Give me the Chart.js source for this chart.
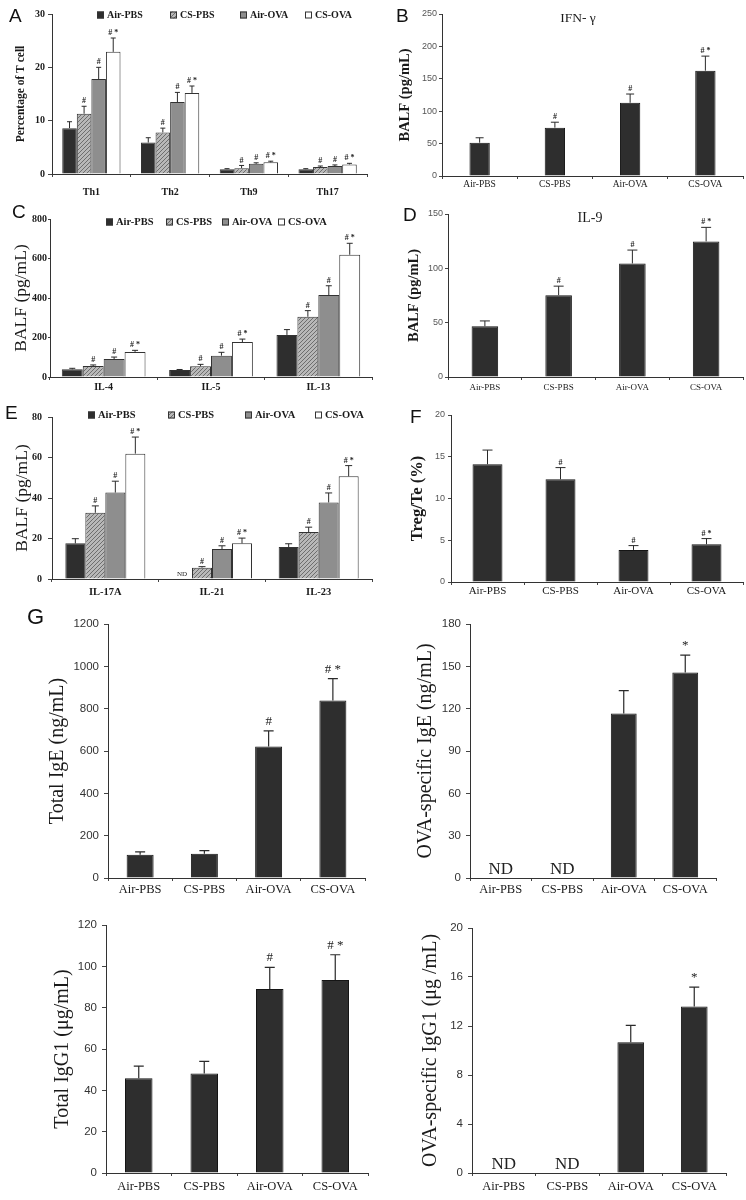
<!DOCTYPE html>
<html>
<head>
<meta charset="utf-8">
<script src="https://cdn.jsdelivr.net/npm/chart.js@4.4.1/dist/chart.umd.min.js"></script>
<style>
  body { margin: 0; background: #fff; }
  #page { position: relative; width: 746px; height: 1200px; }
  canvas { position: absolute; }
  .tag { position: absolute; font-family: 'Liberation Sans', Arial, sans-serif; font-size: 19px; line-height: 19px; color: #111; }
</style>
</head>
<body>
<div id="page">
  <canvas id="pA" width="373" height="200" style="left:0;top:0"></canvas>
  <canvas id="pB" width="373" height="200" style="left:373px;top:0"></canvas>
  <canvas id="pC" width="373" height="205" style="left:0;top:195px"></canvas>
  <canvas id="pD" width="373" height="205" style="left:373px;top:195px"></canvas>
  <canvas id="pE" width="373" height="200" style="left:0;top:400px"></canvas>
  <canvas id="pF" width="373" height="200" style="left:373px;top:400px"></canvas>
  <canvas id="pG1" width="373" height="300" style="left:0;top:600px"></canvas>
  <canvas id="pG2" width="373" height="300" style="left:373px;top:600px"></canvas>
  <canvas id="pG3" width="373" height="300" style="left:0;top:900px"></canvas>
  <canvas id="pG4" width="373" height="300" style="left:373px;top:900px"></canvas>
  <div class="tag" style="left:9px;top:6px">A</div>
  <div class="tag" style="left:396px;top:6px">B</div>
  <div class="tag" style="left:12px;top:202px">C</div>
  <div class="tag" style="left:403px;top:205px">D</div>
  <div class="tag" style="left:5px;top:403px">E</div>
  <div class="tag" style="left:410px;top:407px">F</div>
  <div class="tag" style="left:27px;top:606px;font-size:22px;line-height:22px">G</div>
</div>
<script>
const groups = ["Air-PBS", "CS-PBS", "Air-OVA", "CS-OVA"];

// A: T cell subsets (% of T cells)
const tSubsets = ["Th1", "Th2", "Th9", "Th17"];
const tAirPBS = [8.6, 5.9, 0.9, 0.9];
const tAirPBSErr = [9.8, 6.8, 1.0, 1.0];
const tCSPBS = [11.3, 7.8, 1.1, 1.3];
const tCSPBSErr = [12.7, 8.6, 1.6, 1.5];
const tAirOVA = [17.8, 13.5, 1.9, 1.5];
const tAirOVAErr = [20.0, 15.3, 2.1, 1.7];
const tCSOVA = [22.9, 15.2, 2.2, 1.8];
const tCSOVAErr = [25.5, 16.5, 2.4, 2.0];

// B: IFN-gamma
const ifnG = [51.4, 74.6, 113, 162.5];
const ifnGErr = [59, 83, 126.5, 185];

// C: Th2 cytokines
const th2Cyto = ["IL-4", "IL-5", "IL-13"];
const cAirPBS = [39, 35, 213];
const cAirPBSErr = [44, 38, 240];
const cCSPBS = [56, 54, 305];
const cCSPBSErr = [61, 64, 336];
const cAirOVA = [91, 108, 415];
const cAirOVAErr = [101, 125, 462];
const cCSOVA = [127, 177, 619];
const cCSOVAErr = [135, 192, 677];

// D: IL-9
const il9 = [46.7, 75.3, 104.5, 124.8];
const il9Err = [51.6, 83.6, 116.8, 137.7];

// E: Th17 cytokines (IL-21 Air-PBS not detected)
const th17Cyto = ["IL-17A", "IL-21", "IL-23"];
const eAirPBS = [17.6, null, 15.8];
const eAirPBSErr = [19.9, null, 17.4];
const eCSPBS = [32.7, 5.6, 23.2];
const eCSPBSErr = [36.1, 6.1, 25.6];
const eAirOVA = [42.7, 14.8, 37.8];
const eAirOVAErr = [48.3, 16.4, 42.5];
const eCSOVA = [61.9, 17.6, 50.7];
const eCSOVAErr = [70.1, 20.2, 56.0];

// F: Treg/Te
const tregTe = [14.1, 12.3, 3.84, 4.52];
const tregTeErr = [15.8, 13.7, 4.36, 5.2];

// G: immunoglobulins
const totalIgE = [110, 115, 621, 838];
const totalIgEErr = [123, 129, 695, 942];
const ovaIgE = [null, null, 116.5, 145.6];
const ovaIgEErr = [null, null, 132.8, 158];
const totalIgG1 = [45.9, 48.1, 89, 93.4];
const totalIgG1Err = [51.7, 54, 99.5, 105.6];
const ovaIgG1 = [null, null, 10.67, 13.6];
const ovaIgG1Err = [null, null, 12.05, 15.18];

// significance marks
const marksGroup = ["", "#", "#", "# *"];
const marksIgE = ["", "", "#", "# *"];
const marksOva = ["", "", "", "*"];

const serif = "'Liberation Serif', 'Times New Roman', serif";
const sans = "'Liberation Sans', Arial, sans-serif";

function hatch() {
  const c = document.createElement("canvas");
  c.width = 4; c.height = 4;
  const g = c.getContext("2d");
  g.fillStyle = "#b8b8b8";
  g.fillRect(0, 0, 4, 4);
  g.strokeStyle = "#6e6e6e";
  g.lineWidth = 1;
  g.beginPath();
  g.moveTo(0, 4); g.lineTo(4, 0);
  g.moveTo(-1, 1); g.lineTo(1, -1);
  g.moveTo(3, 5); g.lineTo(5, 3);
  g.stroke();
  return g.createPattern(c, "repeat");
}
const hatchFill = hatch();
const groupFills = ["#2e2e2e", hatchFill, "#8e8e8e", "#ffffff"];

// upper error bars, significance marks and ND labels
const errorMarks = {
  id: "errorMarks",
  afterDatasetsDraw(chart, args, o) {
    const ctx = chart.ctx, ys = chart.scales.y;
    ctx.save();
    chart.data.datasets.forEach((ds, i) => {
      const meta = chart.getDatasetMeta(i);
      meta.data.forEach((bar, j) => {
        const v = ds.data[j];
        if (v == null) {
          ctx.font = o.ndFont;
          ctx.fillStyle = "#222";
          ctx.textAlign = "center";
          ctx.textBaseline = "alphabetic";
          ctx.fillText("ND", bar.x, ys.getPixelForValue(0) - o.ndGap);
          return;
        }
        const top = ys.getPixelForValue(ds.errTop[j]);
        ctx.strokeStyle = "#2a2a2a";
        ctx.lineWidth = o.width;
        ctx.beginPath();
        ctx.moveTo(bar.x, bar.y);
        ctx.lineTo(bar.x, top);
        ctx.moveTo(bar.x - o.cap, top);
        ctx.lineTo(bar.x + o.cap, top);
        ctx.stroke();
        const m = ds.marks && ds.marks[j];
        if (m) {
          ctx.font = o.markFont;
          ctx.fillStyle = "#222";
          ctx.textAlign = "center";
          ctx.textBaseline = "bottom";
          ctx.fillText(m, bar.x, top - o.gap);
        }
      });
    });
    ctx.restore();
  }
};

const boxLegend = {
  id: "boxLegend",
  afterDraw(chart, args, o) {
    const ctx = chart.ctx;
    ctx.save();
    ctx.font = o.font;
    ctx.textBaseline = "middle";
    ctx.textAlign = "left";
    chart.data.datasets.forEach((ds, i) => {
      const x = o.x[i];
      ctx.fillStyle = ds.backgroundColor;
      ctx.fillRect(x, o.y - o.box / 2, o.box, o.box);
      ctx.strokeStyle = "#333";
      ctx.lineWidth = 1;
      ctx.strokeRect(x + 0.5, o.y - o.box / 2 + 0.5, o.box - 1, o.box - 1);
      ctx.fillStyle = "#1a1a1a";
      ctx.fillText(ds.label, x + o.box + 3, o.y + 0.5);
    });
    ctx.restore();
  }
};

const panelTitle = {
  id: "panelTitle",
  afterDraw(chart, args, o) {
    const ctx = chart.ctx;
    ctx.save();
    ctx.font = o.font;
    ctx.fillStyle = "#1a1a1a";
    ctx.textAlign = "center";
    ctx.textBaseline = "middle";
    ctx.fillText(o.text, o.x, o.y);
    ctx.restore();
  }
};

function groupSets(values, errs, marks) {
  return groups.map((g, i) => ({
    label: g,
    data: values[i],
    errTop: errs[i],
    marks: marks[i],
    backgroundColor: groupFills[i],
    borderColor: "#333",
    borderWidth: 1
  }));
}

function singleSet(values, errs, marks) {
  return [{
    label: "",
    data: values,
    errTop: errs,
    marks: marks,
    backgroundColor: "#2e2e2e",
    borderColor: "#151515",
    borderWidth: 1
  }];
}

function panel(id, c) {
  c.datasets.forEach(ds => {
    ds.barPercentage = c.barPct;
    ds.categoryPercentage = c.catPct;
  });
  return new Chart(document.getElementById(id), {
    type: "bar",
    data: { labels: c.labels, datasets: c.datasets },
    options: {
      responsive: false,
      animation: false,
      layout: { padding: { left: 0, top: c.padTop, right: c.padRight, bottom: 0 } },
      plugins: {
        legend: { display: false },
        tooltip: { enabled: false },
        errorMarks: c.err,
        boxLegend: c.legend || false,
        panelTitle: c.title || false
      },
      scales: {
        x: {
          offset: true,
          grid: { offset: true, drawOnChartArea: false, drawTicks: true, tickLength: 3, color: "#444" },
          border: { color: "#333", width: 1 },
          ticks: { font: c.xFont, color: "#1a1a1a", padding: c.xPad, maxRotation: 0, autoSkip: false },
          afterFit: s => { s.height = c.xH; }
        },
        y: {
          min: 0,
          max: c.max,
          ticks: { stepSize: c.step, font: c.yFont, color: c.yColor, padding: c.yPad, callback: v => String(v) },
          grid: { drawOnChartArea: false, drawTicks: true, tickLength: c.yTick, color: "#444" },
          border: { color: "#333", width: 1 },
          title: {
            display: true,
            text: c.yTitle,
            font: c.tFont,
            color: "#1a1a1a",
            padding: { top: c.tPad, bottom: 0 }
          },
          afterFit: s => { s.width = c.yW; }
        }
      }
    },
    plugins: [errorMarks, boxLegend, panelTitle]
  });
}

const smallErr = (cap) => ({ cap: cap, width: 1, gap: 1, markFont: "bold 8px " + serif, ndFont: "7px " + serif, ndGap: 3 });
const bigErr = { cap: 5, width: 1.2, gap: 3, markFont: "13px " + serif, ndFont: "17px " + serif, ndGap: 4 };

panel("pA", {
  labels: tSubsets,
  datasets: groupSets([tAirPBS, tCSPBS, tAirOVA, tCSOVA], [tAirPBSErr, tCSPBSErr, tAirOVAErr, tCSOVAErr], marksGroup.map(m => tSubsets.map(() => m))),
  barPct: 1, catPct: 0.74,
  padTop: 14, padRight: 6, xH: 26, yW: 52,
  max: 30, step: 10,
  xFont: { family: serif, size: 10, weight: "bold" }, xPad: 9,
  yFont: { family: serif, size: 10, weight: "bold" }, yColor: "#1a1a1a", yPad: 3, yTick: 4,
  yTitle: "Percentage of T cell", tFont: { family: serif, size: 11.5, weight: "bold" }, tPad: 14,
  err: smallErr(2.5),
  legend: { x: [97, 170, 240, 305], y: 15, box: 7, font: "bold 10px " + serif }
});

panel("pB", {
  labels: groups,
  datasets: singleSet(ifnG, ifnGErr, marksGroup),
  barPct: 0.27, catPct: 1,
  padTop: 14, padRight: 3, xH: 24, yW: 69,
  max: 250, step: 50,
  xFont: { family: serif, size: 9.5 }, xPad: 0,
  yFont: { family: sans, size: 9 }, yColor: "#555", yPad: 2, yTick: 3,
  yTitle: "BALF (pg/mL)", tFont: { family: serif, size: 14.5, weight: "bold" }, tPad: 24,
  err: smallErr(4),
  title: { text: "IFN- γ", x: 205, y: 18, font: "13.5px " + serif }
});

panel("pC", {
  labels: th2Cyto,
  datasets: groupSets([cAirPBS, cCSPBS, cAirOVA, cCSOVA], [cAirPBSErr, cCSPBSErr, cAirOVAErr, cCSOVAErr], marksGroup.map(m => th2Cyto.map(() => m))),
  barPct: 1, catPct: 0.78,
  padTop: 24, padRight: 1, xH: 23, yW: 50,
  max: 800, step: 200,
  xFont: { family: serif, size: 10, weight: "bold" }, xPad: 1,
  yFont: { family: serif, size: 10, weight: "bold" }, yColor: "#1a1a1a", yPad: 1, yTick: 2,
  yTitle: "BALF (pg/mL)", tFont: { family: serif, size: 17.5 }, tPad: 11,
  err: smallErr(3),
  legend: { x: [106, 166, 222, 278], y: 27, box: 7, font: "bold 10.5px " + serif }
});

panel("pD", {
  labels: groups,
  datasets: singleSet(il9, il9Err, marksGroup),
  barPct: 0.36, catPct: 1,
  padTop: 19, padRight: 3, xH: 23, yW: 75,
  max: 150, step: 50,
  xFont: { family: serif, size: 9 }, xPad: 2,
  yFont: { family: sans, size: 9 }, yColor: "#555", yPad: 2, yTick: 3,
  yTitle: "BALF (pg/mL)", tFont: { family: serif, size: 14.5, weight: "bold" }, tPad: 33,
  err: smallErr(5),
  title: { text: "IL-9", x: 217, y: 23, font: "14px " + serif }
});

panel("pE", {
  labels: th17Cyto,
  datasets: groupSets([eAirPBS, eCSPBS, eAirOVA, eCSOVA], [eAirPBSErr, eCSPBSErr, eAirOVAErr, eCSOVAErr], marksGroup.map(m => th17Cyto.map(() => m))),
  barPct: 1, catPct: 0.75,
  padTop: 17, padRight: 1, xH: 21, yW: 52,
  max: 80, step: 20,
  xFont: { family: serif, size: 10.5, weight: "bold" }, xPad: 4,
  yFont: { family: serif, size: 10, weight: "bold" }, yColor: "#1a1a1a", yPad: 6, yTick: 4,
  yTitle: "BALF (pg/mL)", tFont: { family: serif, size: 17.5 }, tPad: 12,
  err: smallErr(3.5),
  legend: { x: [88, 168, 245, 315], y: 15, box: 7, font: "bold 10.5px " + serif }
});

panel("pF", {
  labels: groups,
  datasets: singleSet(tregTe, tregTeErr, marksGroup),
  barPct: 0.41, catPct: 1,
  padTop: 15, padRight: 3, xH: 18, yW: 78,
  max: 20, step: 5,
  xFont: { family: serif, size: 11 }, xPad: 0,
  yFont: { family: sans, size: 9 }, yColor: "#555", yPad: 3, yTick: 3,
  yTitle: "Treg/Te (%)", tFont: { family: serif, size: 16.5, weight: "bold" }, tPad: 35,
  err: smallErr(5)
});

const gCommon = {
  barPct: 0.42, catPct: 1,
  xFont: { family: serif, size: 12.5 },
  yFont: { family: sans, size: 11.5 }, yColor: "#333", yPad: 5, yTick: 4,
  tFont: { family: serif, size: 20 },
  err: bigErr
};

panel("pG1", Object.assign({}, gCommon, {
  labels: groups,
  datasets: singleSet(totalIgE, totalIgEErr, marksIgE),
  padTop: 24, padRight: 8, xH: 22, yW: 108, xPad: 1,
  max: 1200, step: 200,
  yTitle: "Total IgE (ng/mL)", tPad: 46
}));

panel("pG2", Object.assign({}, gCommon, {
  labels: groups,
  datasets: singleSet(ovaIgE, ovaIgEErr, marksOva),
  padTop: 24, padRight: 30, xH: 22, yW: 97, xPad: 1,
  max: 180, step: 30,
  yTitle: "OVA-specific IgE (ng/mL)", tPad: 41
}));

panel("pG3", Object.assign({}, gCommon, {
  labels: groups,
  datasets: singleSet(totalIgG1, totalIgG1Err, marksIgE),
  padTop: 25, padRight: 5, xH: 27, yW: 106, xPad: 3,
  max: 120, step: 20,
  yTitle: "Total IgG1 (μg/mL)", tPad: 51
}));

panel("pG4", Object.assign({}, gCommon, {
  labels: groups,
  datasets: singleSet(ovaIgG1, ovaIgG1Err, marksOva),
  padTop: 28, padRight: 20, xH: 27, yW: 99, xPad: 3,
  max: 20, step: 4,
  yTitle: "OVA-specific IgG1 (μg /mL)", tPad: 46
}));
</script>
</body>
</html>
